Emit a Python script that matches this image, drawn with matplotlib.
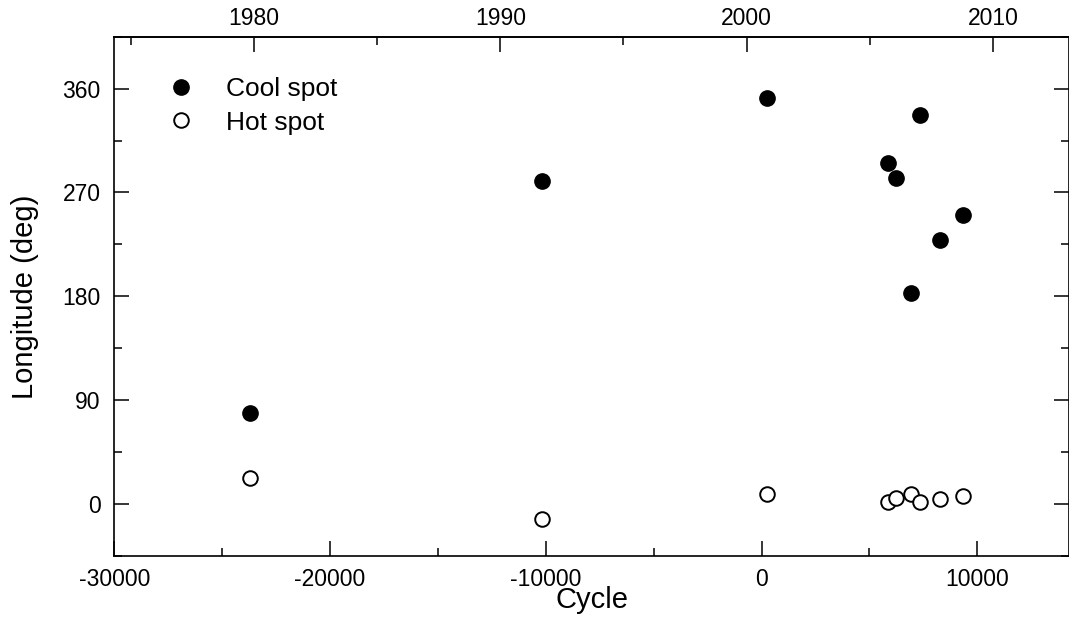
import matplotlib.pyplot as plt
from matplotlib.ticker import MultipleLocator

plt.rcParams['font.family'] = ['Liberation Sans', 'DejaVu Sans']
plt.rcParams['axes.unicode_minus'] = False

# Data (cycle number, longitude in degrees)
cool_cycle = [-23717, -10197, 260, 5854, 6210, 6934, 7337, 8250, 9345]
cool_lon = [78.9, 279.7, 351.7, 295.7, 282.3, 182.9, 336.7, 228.6, 250.6]

hot_cycle = [-23717, -10197, 260, 5840, 6240, 6920, 7337, 8250, 9345]
hot_lon = [22.5, -12.7, 8.7, 1.4, 5.2, 8.7, 1.4, 4.3, 7.2]

year_ticks = [1980, 1990, 2000, 2010]
year_minor = [1975, 1985, 1995, 2005]

# cycle <-> year conversion for the top axis
epoch_cycle = -695
cycles_per_year = 1141.5


def cycle_to_year(c):
    return 2000 + (c - epoch_cycle) / cycles_per_year


def year_to_cycle(y):
    return (y - 2000) * cycles_per_year + epoch_cycle


fig = plt.figure(figsize=(10.69, 6.40), dpi=100)
ax = fig.add_axes([0.1069, 0.13125, 0.8931, 0.8115])

ax.plot(cool_cycle, cool_lon, 'o', color='black', ms=11, label='Cool spot')
ax.plot(hot_cycle, hot_lon, 'o', mfc='white', mec='black', mew=1.4, ms=10.5,
        label='Hot spot')

ax.set_xlim(-30000, 14250)
ax.set_ylim(-45, 405)

ax.xaxis.set_major_locator(MultipleLocator(10000))
ax.xaxis.set_minor_locator(MultipleLocator(5000))
ax.yaxis.set_major_locator(MultipleLocator(90))
ax.yaxis.set_minor_locator(MultipleLocator(45))

ax.tick_params(axis='both', which='major', direction='in', length=11,
               width=1.1, labelsize=16.5)
ax.tick_params(axis='both', which='minor', direction='in', length=5.5,
               width=1.1)
ax.tick_params(axis='x', which='major', pad=9)
ax.tick_params(axis='y', which='major', pad=10)
ax.tick_params(axis='x', top=False, which='both')
ax.tick_params(axis='y', right=True, which='both')

for s in ax.spines.values():
    s.set_linewidth(1.2)

ax.set_xlabel('Cycle', fontsize=21, labelpad=-4)
ax.set_ylabel('Longitude (deg)', fontsize=21, labelpad=17)

# top axis in years
top = ax.secondary_xaxis('top', functions=(cycle_to_year, year_to_cycle))
top.set_xticks(year_ticks)
top.set_xticks(year_minor, minor=True)
top.tick_params(which='major', direction='in', length=11, width=1.1,
                labelsize=16.5, pad=5)
top.tick_params(which='minor', direction='in', length=5.5, width=1.1)
top.spines['top'].set_linewidth(1.2)

ax.legend(loc='upper left', frameon=False, fontsize=19, handlelength=1.0,
          handletextpad=1.2, labelspacing=0.35, borderaxespad=0.0,
          bbox_to_anchor=(0.045, 0.942))

plt.savefig('out.png', dpi=100)
